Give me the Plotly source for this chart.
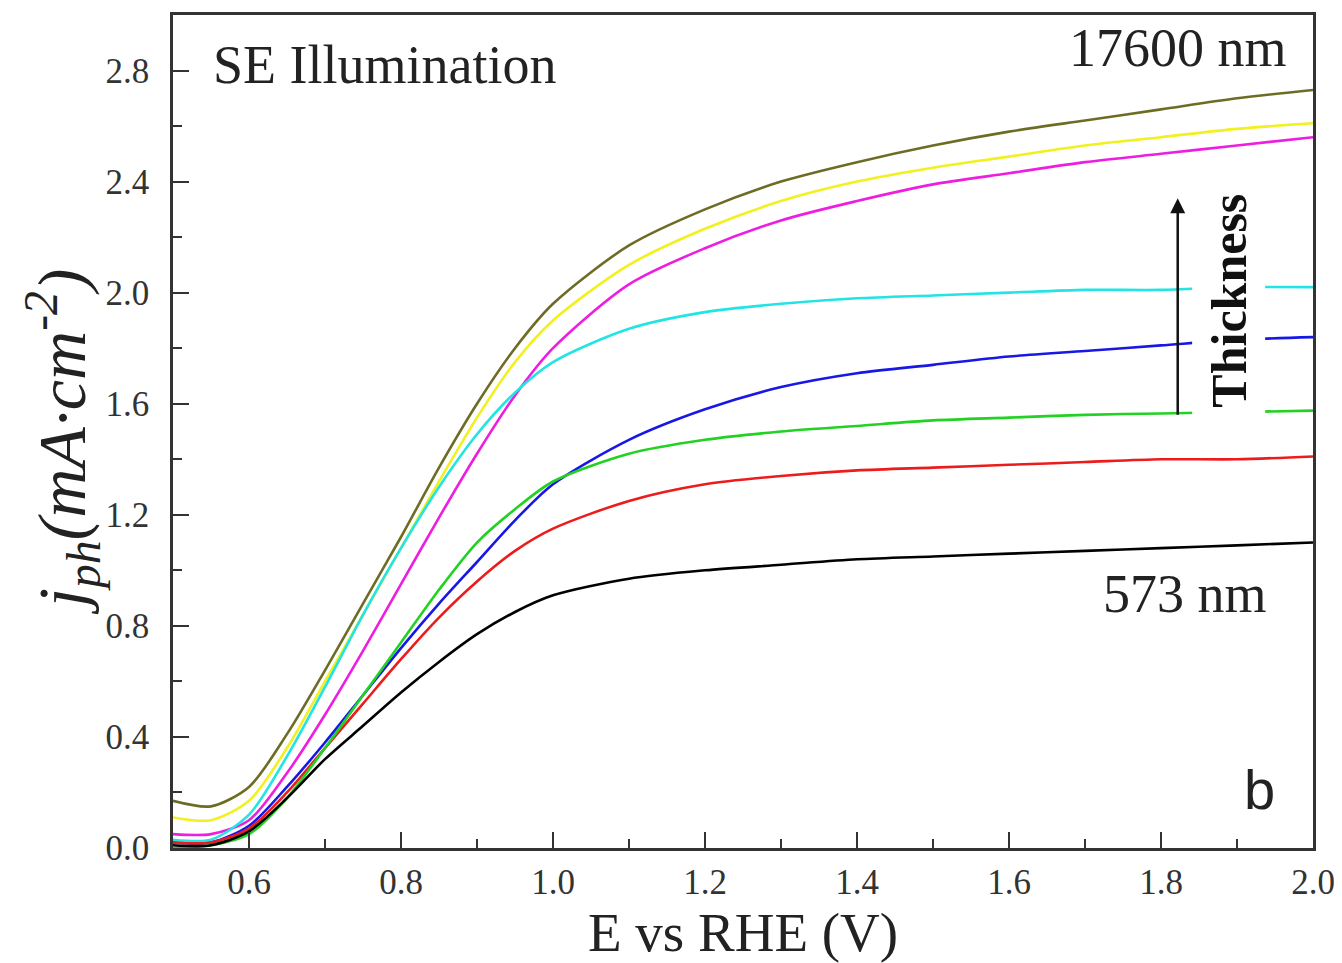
import plotly.graph_objects as go

E = [0.5, 0.55, 0.6, 0.65, 0.7, 0.75, 0.8, 0.85, 0.9, 0.95, 1.0,
     1.1, 1.2, 1.3, 1.4, 1.5, 1.6, 1.7, 1.8, 1.9, 2.0]

j_573 = [0.01, 0.01, 0.06, 0.18, 0.32, 0.44, 0.56, 0.67, 0.77, 0.85, 0.91,
         0.97, 1.00, 1.02, 1.04, 1.05, 1.06, 1.07, 1.08, 1.09, 1.10]
j_red = [0.02, 0.02, 0.07, 0.20, 0.36, 0.52, 0.68, 0.83, 0.96, 1.07, 1.15,
         1.25, 1.31, 1.34, 1.36, 1.37, 1.38, 1.39, 1.40, 1.40, 1.41]
j_green = [0.00, 0.01, 0.05, 0.18, 0.36, 0.55, 0.74, 0.93, 1.10, 1.22, 1.32,
           1.42, 1.47, 1.50, 1.52, 1.54, 1.55, 1.56, 1.565, 1.57, 1.575]
j_blue = [0.02, 0.02, 0.08, 0.22, 0.38, 0.55, 0.72, 0.88, 1.03, 1.18, 1.31,
          1.47, 1.58, 1.66, 1.71, 1.74, 1.77, 1.79, 1.81, 1.83, 1.84]
j_cyan = [0.03, 0.03, 0.12, 0.33, 0.58, 0.84, 1.08, 1.30, 1.49, 1.64, 1.75,
          1.87, 1.93, 1.96, 1.98, 1.99, 2.00, 2.01, 2.01, 2.02, 2.02]
j_magenta = [0.05, 0.05, 0.10, 0.27, 0.48, 0.71, 0.95, 1.19, 1.42, 1.63, 1.80,
             2.03, 2.16, 2.26, 2.33, 2.39, 2.43, 2.47, 2.50, 2.53, 2.56]
j_yellow = [0.11, 0.10, 0.17, 0.36, 0.60, 0.84, 1.08, 1.32, 1.55, 1.75, 1.90,
            2.10, 2.23, 2.33, 2.40, 2.45, 2.49, 2.53, 2.56, 2.59, 2.61]
j_17600 = [0.17, 0.15, 0.22, 0.41, 0.64, 0.88, 1.12, 1.37, 1.60, 1.80, 1.96,
           2.17, 2.30, 2.40, 2.47, 2.53, 2.58, 2.62, 2.66, 2.70, 2.73]

series = [
    ("17600 nm", j_17600, "#6e6c24"),
    ("yellow", j_yellow, "#f2f01e"),
    ("magenta", j_magenta, "#ee1ee0"),
    ("cyan", j_cyan, "#22e4e4"),
    ("blue", j_blue, "#1818e6"),
    ("red", j_red, "#ec1c1c"),
    ("green", j_green, "#22d222"),
    ("573 nm", j_573, "#000000"),
]

fig = go.Figure()
for name, ys, col in series:
    fig.add_trace(go.Scatter(x=E, y=ys, mode="lines", name=name,
                             line=dict(color=col, width=2.6, shape="spline", smoothing=0.8),
                             showlegend=False))

serif = "Liberation Serif, Times New Roman, serif"
axcol = "#333333"

fig.update_layout(
    width=1334, height=955,
    margin=dict(l=165, r=29, t=4, b=115),
    paper_bgcolor="white", plot_bgcolor="white",
    font=dict(family=serif, color="#222222"),
    xaxis=dict(range=[0.5, 2.0], tickvals=[0.6, 0.8, 1.0, 1.2, 1.4, 1.6, 1.8, 2.0],
               ticktext=["0.6", "0.8", "1.0", "1.2", "1.4", "1.6", "1.8", "2.0"],
               ticks="inside", ticklen=16, tickwidth=2.2, tickcolor=axcol,
               showline=True, linecolor=axcol, linewidth=2.5, mirror=True,
               showgrid=False, zeroline=False, ticklabelstandoff=1,
               tickfont=dict(size=35, family=serif, color="#333333"),
               minor=dict(dtick=0.1, tick0=0.5, ticks="inside", ticklen=9, tickwidth=2, tickcolor=axcol)),
    yaxis=dict(range=[0, 3.0], tickvals=[0.0, 0.4, 0.8, 1.2, 1.6, 2.0, 2.4, 2.8],
               ticktext=["0.0", "0.4", "0.8", "1.2", "1.6", "2.0", "2.4", "2.8"],
               ticks="inside", ticklen=16, tickwidth=2.2, tickcolor=axcol,
               showline=True, linecolor=axcol, linewidth=2.5, mirror=True,
               showgrid=False, zeroline=False, ticklabelstandoff=14,
               tickfont=dict(size=35, family=serif, color="#333333"),
               minor=dict(dtick=0.2, tick0=0, ticks="inside", ticklen=9, tickwidth=2, tickcolor=axcol)),
)

# x-axis title
fig.add_annotation(x=0.5, y=-0.0635, xref="paper", yref="paper", xanchor="center", yanchor="top",
                   text="E vs RHE (V)", showarrow=False, borderpad=0,
                   font=dict(size=55, family=serif, color="#222222"))

# y-axis title
fig.add_annotation(x=-0.097, y=0.488, xref="paper", yref="paper", xanchor="center", yanchor="middle",
                   text="<i>j</i><sub><i>ph</i></sub><i>(mA·cm</i><sup><i>-2</i></sup><i>)</i>",
                   textangle=-90, showarrow=False,
                   font=dict(size=68, family=serif, color="#222222"))

fig.add_annotation(x=0.033, y=0.94, xref="paper", yref="paper", xanchor="left", yanchor="middle",
                   text="SE Illumination", showarrow=False,
                   font=dict(size=54, family=serif, color="#222222"))
fig.add_annotation(x=0.979, y=0.96, xref="paper", yref="paper", xanchor="right", yanchor="middle",
                   text="17600 nm", showarrow=False,
                   font=dict(size=54, family=serif, color="#222222"))
fig.add_annotation(x=0.961, y=0.305, xref="paper", yref="paper", xanchor="right", yanchor="middle",
                   text="573 nm", showarrow=False,
                   font=dict(size=54, family=serif, color="#222222"))
fig.add_annotation(x=0.968, y=0.07, xref="paper", yref="paper", xanchor="right", yanchor="middle",
                   text="b", showarrow=False,
                   font=dict(size=56, family="Liberation Sans, Arial, sans-serif", color="#222222"))

# Arrow indicating increasing thickness
fig.add_annotation(x=1.822, y=2.34, ax=1.822, ay=1.555, xref="x", yref="y", axref="x", ayref="y",
                   text="", showarrow=True, arrowhead=2, arrowsize=1.2, arrowwidth=2.5,
                   arrowcolor="#111111", standoff=0, startstandoff=0)
fig.add_annotation(x=1.889, y=1.97, xref="x", yref="y", text="<b>Thickness</b>", showarrow=False,
                   textangle=-90, bgcolor="white", borderpad=8,
                   font=dict(size=50, family=serif, color="#111111"))

fig.write_html("out.html")
